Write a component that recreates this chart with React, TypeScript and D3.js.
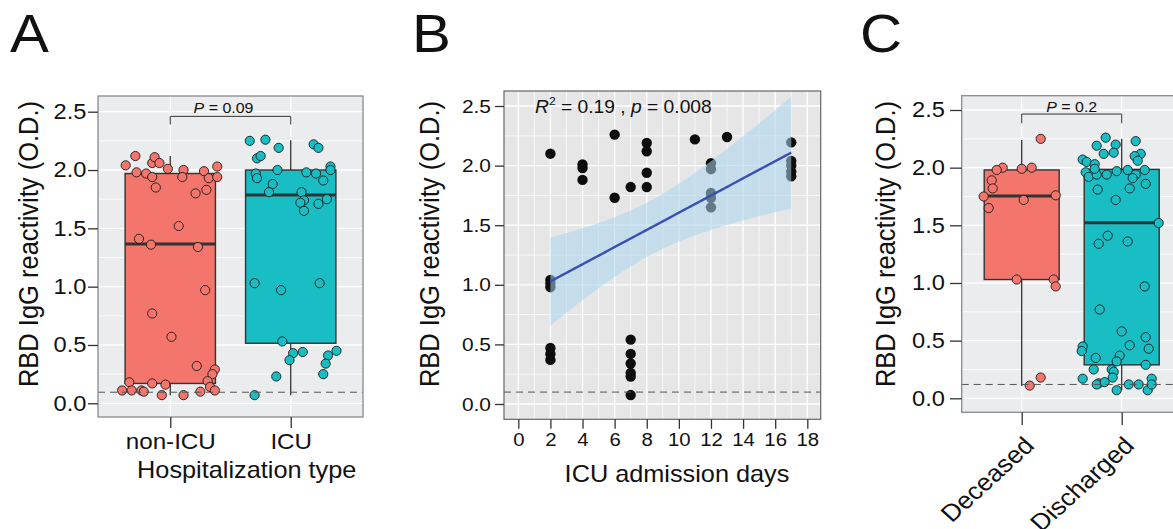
import * as d3 from "d3";
import { useRef, useEffect } from "react";

const FONT = "'Liberation Sans', Arial, Helvetica, sans-serif";
const SX = 1.1; // glyphs in the figure are a bit wider than plain Arial
const RED = "#F4756C";
const TEAL = "#19BEC4";

// ---- Panel A: hospitalization type ----
const hospGroups = ["non-ICU", "ICU"];
const nonIcuJitter = [-0.37, -0.29, -0.28, -0.2, -0.15, -0.15, -0.13, -0.09, -0.02, -0.12, 0.11, 0.1, 0.28, 0.32, 0.39, 0.39, 0.3, 0.21, 0.07, -0.26, -0.16, 0.23, 0.29, -0.15, 0.01, 0.22, 0.37, 0.35, 0.31, 0.33, 0.37, -0.34, -0.15, -0.04, -0.4, -0.32, -0.24, -0.22, -0.07, 0.11, 0.25];
const nonIcuValues = [2.04, 2.12, 1.98, 1.97, 1.94, 2.06, 2.11, 2.06, 2.01, 1.85, 2.0, 1.94, 1.99, 1.93, 2.03, 1.94, 1.83, 1.8, 1.52, 1.41, 1.36, 1.34, 0.97, 0.77, 0.57, 0.32, 0.29, 0.25, 0.19, 0.14, 0.11, 0.18, 0.17, 0.16, 0.11, 0.11, 0.11, 0.1, 0.07, 0.07, 0.1];
const icuJitter = [-0.34, -0.21, -0.1, 0.19, 0.23, -0.28, -0.25, -0.29, -0.28, -0.11, 0.13, 0.21, 0.27, 0.33, 0.33, -0.15, -0.18, 0.09, 0.11, 0.08, 0.11, 0.23, 0.3, -0.3, -0.08, 0.24, -0.07, 0.02, 0.1, -0.01, 0.38, 0.31, 0.29, 0.27, -0.12, -0.3];
const icuValues = [2.25, 2.26, 2.19, 2.22, 2.19, 2.1, 2.12, 1.97, 1.93, 2.0, 1.98, 1.97, 1.91, 2.03, 2.0, 1.88, 1.81, 1.81, 1.74, 1.72, 1.65, 1.71, 1.75, 1.03, 0.97, 1.03, 0.53, 0.43, 0.44, 0.37, 0.45, 0.41, 0.34, 0.25, 0.23, 0.07];
// [min, q1, median, q3, max]
const hospBoxes = [
  [0.07, 0.17, 1.365, 1.97, 2.12],
  [0.07, 0.515, 1.785, 2.0, 2.255],
];
const hospP = "0.09";
const hospCutoff = 0.095;

// ---- Panel B: ICU admission days ----
const icuDays = [2, 2, 2, 2, 2, 2, 2, 4, 4, 4, 6, 6, 7, 7, 7, 7, 7, 7, 7, 8, 8, 8, 8, 11, 12, 12, 12, 12, 12, 13, 17, 17, 17, 17, 17];
const icuDayValues = [2.1, 1.04, 1.01, 0.98, 0.47, 0.42, 0.37, 2.01, 1.98, 1.88, 2.26, 1.73, 1.82, 0.54, 0.42, 0.34, 0.26, 0.23, 0.075, 2.19, 2.12, 1.94, 1.82, 2.22, 2.02, 1.97, 1.77, 1.73, 1.65, 2.24, 2.195, 2.04, 2.0, 1.95, 1.91];
const dayTicks = [0, 2, 4, 6, 8, 10, 12, 14, 16, 18];
const daysCutoff = 0.1;

// ---- Panel C: outcome ----
const outcomeGroups = ["Deceased", "Discharged"];
const deceasedJitter = [0.19, -0.19, 0.1, 0.0, -0.25, -0.3, -0.29, -0.38, 0.34, 0.02, -0.33, -0.05, 0.32, 0.34, 0.19, 0.08];
const deceasedValues = [2.25, 2.0, 2.0, 1.99, 1.98, 1.89, 1.82, 1.75, 1.76, 1.72, 1.65, 1.03, 1.03, 0.97, 0.18, 0.11];
const dischargedJitter = [-0.16, -0.25, -0.06, 0.14, -0.18, -0.08, 0.19, 0.13, -0.39, -0.35, -0.27, 0.16, -0.36, -0.33, -0.25, -0.27, -0.15, -0.05, 0.06, 0.14, 0.23, 0.11, 0.24, 0.08, -0.24, -0.06, 0.37, -0.14, -0.23, 0.06, 0.23, -0.22, 0.0, 0.24, -0.39, 0.08, 0.27, -0.4, -0.02, -0.26, -0.05, 0.24, -0.28, -0.1, -0.08, -0.39, -0.09, 0.3, -0.23, -0.25, -0.17, -0.05, 0.07, 0.17, 0.26, 0.3];
const dischargedValues = [2.26, 2.19, 2.2, 2.23, 2.12, 2.13, 2.12, 2.1, 2.07, 2.05, 2.03, 2.06, 1.96, 1.92, 1.94, 1.99, 1.94, 1.97, 1.98, 1.94, 1.98, 1.91, 1.86, 1.82, 1.81, 1.72, 1.52, 1.41, 1.34, 1.36, 0.97, 0.77, 0.58, 0.53, 0.45, 0.46, 0.43, 0.41, 0.37, 0.35, 0.32, 0.29, 0.25, 0.25, 0.23, 0.17, 0.18, 0.17, 0.13, 0.12, 0.14, 0.07, 0.12, 0.12, 0.07, 0.12];
const outcomeBoxes = [
  [0.107, 1.03, 1.755, 1.98, 2.24],
  [0.07, 0.29, 1.523, 1.985, 2.25],
];
const outcomeP = "0.2";
const outcomeCutoff = 0.12;

const odTicks = [0, 0.5, 1, 1.5, 2, 2.5];
const yTitle = "RBD IgG reactivity (O.D.)";

function label(g, x, y, text, size, anchor = "middle", rotate = 0) {
  return g.append("text")
    .attr("transform", `translate(${x},${y}) scale(${SX},1) rotate(${rotate})`)
    .attr("text-anchor", anchor)
    .attr("font-size", size)
    .attr("fill", "#111")
    .text(text);
}

function boxPanel(svg, c) {
  const x = d3.scaleLinear().domain([0.4, 2.6]).range([c.left, c.right]);
  const y = d3.scaleLinear().domain([0, 2.5]).range(c.yRange);
  const g = svg.append("g");

  g.append("rect")
    .attr("x", c.left).attr("y", c.top)
    .attr("width", c.right - c.left).attr("height", c.bottom - c.top)
    .attr("fill", "#EBECEE");

  // grid
  g.append("g").selectAll("line")
    .data(d3.range(0, 2.51, 0.25))
    .join("line")
      .attr("x1", c.left).attr("x2", c.right)
      .attr("y1", d => y(d)).attr("y2", d => y(d))
      .attr("stroke", "white")
      .attr("stroke-width", (d, i) => (i % 2 === 0 ? 1.3 : 0.8));
  g.append("g").selectAll("line")
    .data([1, 2])
    .join("line")
      .attr("x1", d => x(d)).attr("x2", d => x(d))
      .attr("y1", c.top).attr("y2", c.bottom)
      .attr("stroke", "white").attr("stroke-width", 1.3);

  // whiskers
  g.append("g").selectAll("line")
    .data(c.boxes)
    .join("line")
      .attr("x1", (d, i) => x(i + 1)).attr("x2", (d, i) => x(i + 1))
      .attr("y1", d => y(d[0])).attr("y2", d => y(d[4]))
      .attr("stroke", "#333").attr("stroke-width", 1.3);

  // boxes
  const bw = x(0.75) - x(0);
  g.append("g").selectAll("rect")
    .data(c.boxes)
    .join("rect")
      .attr("x", (d, i) => x(i + 1) - bw / 2)
      .attr("y", d => y(d[3]))
      .attr("width", bw)
      .attr("height", d => y(d[1]) - y(d[3]))
      .attr("fill", (d, i) => c.colors[i])
      .attr("stroke", "#333").attr("stroke-width", 1.4);
  g.append("g").selectAll("line")
    .data(c.boxes)
    .join("line")
      .attr("x1", (d, i) => x(i + 1) - bw / 2).attr("x2", (d, i) => x(i + 1) + bw / 2)
      .attr("y1", d => y(d[2])).attr("y2", d => y(d[2]))
      .attr("stroke", "#333").attr("stroke-width", 3);

  // jittered points
  c.points.forEach(([jit, vals], gi) => {
    g.append("g").selectAll("circle")
      .data(vals)
      .join("circle")
        .attr("cx", (d, i) => x(gi + 1 + jit[i]))
        .attr("cy", d => y(d))
        .attr("r", 4.6)
        .attr("fill", c.colors[gi])
        .attr("stroke", "#1a1a1a").attr("stroke-width", 0.9);
  });

  // cutoff
  g.append("line")
    .attr("x1", c.left).attr("x2", c.right)
    .attr("y1", y(c.cutoff)).attr("y2", y(c.cutoff))
    .attr("stroke", "#555").attr("stroke-width", 1)
    .attr("stroke-dasharray", "7,5");

  // significance bracket
  const [bTop, bLeg] = c.bracket;
  g.append("path")
    .attr("d", `M${x(1)},${y(bLeg)}V${y(bTop)}H${x(2)}V${y(bLeg)}`)
    .attr("fill", "none").attr("stroke", "#333").attr("stroke-width", 1);
  const pt = g.append("text")
    .attr("transform", `translate(${(x(1) + x(2)) / 2 + c.pShift},${c.pY}) scale(${SX},1)`)
    .attr("text-anchor", "middle").attr("font-size", 14.5).attr("fill", "#111");
  pt.append("tspan").attr("font-style", "italic").text("P");
  pt.append("tspan").text(` = ${c.p}`);

  // frame
  g.append("rect")
    .attr("x", c.left).attr("y", c.top)
    .attr("width", c.right - c.left).attr("height", c.bottom - c.top)
    .attr("fill", "none").attr("stroke", "#8a8a8a").attr("stroke-width", 1.3);

  // y axis
  const ya = g.append("g")
    .attr("transform", `translate(${c.left},0)`)
    .call(d3.axisLeft(y).tickValues(odTicks).tickFormat(d3.format(".1f")).tickSize(c.tickLen).tickPadding(0));
  ya.select(".domain").remove();
  ya.selectAll(".tick line").attr("stroke", "#333").attr("stroke-width", 1.3);
  ya.selectAll(".tick text")
    .attr("x", 0)
    .attr("transform", `translate(${-(c.tickLen + c.tickPad)},0) scale(${SX},1)`)
    .attr("font-size", 21.5).attr("font-family", FONT).attr("fill", "#111");

  // x axis
  const xa = g.append("g")
    .attr("transform", `translate(0,${c.bottom})`)
    .call(d3.axisBottom(x).tickValues([1, 2]).tickFormat(d => c.groups[d - 1]).tickSize(c.xTickLen).tickPadding(5));
  xa.select(".domain").remove();
  xa.selectAll(".tick line").attr("stroke", "#333").attr("stroke-width", 1.3);
  const xt = xa.selectAll(".tick text")
    .attr("font-size", 22).attr("font-family", FONT).attr("fill", "#111");
  if (c.rotateX) {
    xt.attr("x", 0).attr("y", 0).attr("dy", 0)
      .attr("text-anchor", "end")
      .attr("transform", `translate(13.5,34.7) scale(${SX},1) rotate(-45)`)
      .attr("font-size", 24);
  } else {
    xt.attr("transform", `scale(${SX},1)`);
  }

  label(g, c.titleX, 244, yTitle, 25.5, "middle", -90);
}

export default function App() {
  const ref = useRef(null);

  useEffect(() => {
    const svg = d3.select(ref.current);
    svg.selectAll("*").remove();
    svg.attr("font-family", FONT);

    // panel letters
    label(svg, 10, 52, "A", 53, "start");
    label(svg, 412, 52, "B", 53, "start");
    label(svg, 860, 52, "C", 53, "start");

    // ---- A ----
    boxPanel(svg, {
      left: 98, right: 363, top: 96, bottom: 417, yRange: [403.3, 111.7],
      groups: hospGroups, colors: [RED, TEAL],
      points: [[nonIcuJitter, nonIcuValues], [icuJitter, icuValues]],
      boxes: hospBoxes, cutoff: hospCutoff,
      p: hospP, pShift: -7, pY: 113.3, bracket: [2.46, 2.39],
      tickLen: 10, tickPad: 1.5, xTickLen: 11, titleX: 38,
    });
    label(svg, 246.7, 477.7, "Hospitalization type", 23);

    // ---- B ----
    const L = 504, R = 820.7, T = 91, B = 419.3;
    const x = d3.scaleLinear().domain([0, 18]).range([518.3, 807.3]);
    const y = d3.scaleLinear().domain([0, 2.5]).range([404, 106]);
    const g = svg.append("g");
    g.append("rect").attr("x", L).attr("y", T).attr("width", R - L).attr("height", B - T).attr("fill", "#E6E6E6");
    g.append("g").selectAll("line")
      .data(d3.range(0, 2.51, 0.25))
      .join("line")
        .attr("x1", L).attr("x2", R)
        .attr("y1", d => y(d)).attr("y2", d => y(d))
        .attr("stroke", "white").attr("stroke-width", (d, i) => (i % 2 === 0 ? 1.3 : 0.7));
    g.append("g").selectAll("line")
      .data(d3.range(0, 19, 1))
      .join("line")
        .attr("x1", d => x(d)).attr("x2", d => x(d))
        .attr("y1", T).attr("y2", B)
        .attr("stroke", "white").attr("stroke-width", (d, i) => (i % 2 === 0 ? 1.3 : 0.7));

    g.append("g").selectAll("circle")
      .data(icuDays)
      .join("circle")
        .attr("cx", d => x(d))
        .attr("cy", (d, i) => y(icuDayValues[i]))
        .attr("r", 5.2)
        .attr("fill", "#0d0d0d");

    // linear fit with 95% CI, as geom_smooth(method = "lm")
    const n = icuDays.length;
    const mx = d3.mean(icuDays), my = d3.mean(icuDayValues);
    const sxx = d3.sum(icuDays, d => (d - mx) ** 2);
    const sxy = d3.sum(icuDays, (d, i) => (d - mx) * (icuDayValues[i] - my));
    const slope = sxy / sxx, icpt = my - slope * mx;
    const s = Math.sqrt(d3.sum(icuDays, (d, i) => (icuDayValues[i] - icpt - slope * d) ** 2) / (n - 2));
    const tCrit = 2.035;
    const [dMin, dMax] = d3.extent(icuDays);
    const fit = d3.range(80).map(i => {
      const d = dMin + (i * (dMax - dMin)) / 79;
      const f = icpt + slope * d;
      const se = s * Math.sqrt(1 / n + (d - mx) ** 2 / sxx);
      return { d, f, lo: f - tCrit * se, hi: f + tCrit * se };
    });
    g.append("path")
      .datum(fit)
      .attr("d", d3.area().x(d => x(d.d)).y0(d => y(d.lo)).y1(d => y(d.hi)))
      .attr("fill", "#A9D5EC").attr("fill-opacity", 0.55);
    g.append("path")
      .datum(fit)
      .attr("d", d3.line().x(d => x(d.d)).y(d => y(d.f)))
      .attr("fill", "none").attr("stroke", "#3A50B0").attr("stroke-width", 2.4);

    g.append("line")
      .attr("x1", L).attr("x2", R)
      .attr("y1", y(daysCutoff)).attr("y2", y(daysCutoff))
      .attr("stroke", "#555").attr("stroke-width", 1).attr("stroke-dasharray", "7,5");

    g.append("rect").attr("x", L).attr("y", T).attr("width", R - L).attr("height", B - T)
      .attr("fill", "none").attr("stroke", "#666").attr("stroke-width", 1.2);

    const r2 = g.append("text")
      .attr("transform", `translate(535,113.3) scale(${SX},1)`)
      .attr("font-size", 17.5).attr("fill", "#111");
    r2.append("tspan").attr("font-style", "italic").text("R");
    r2.append("tspan").attr("font-size", 11).attr("dy", -8).text("2");
    r2.append("tspan").attr("dy", 8).text(" = 0.19 , ");
    r2.append("tspan").attr("font-style", "italic").text("p");
    r2.append("tspan").text(" = 0.008");

    const ya = g.append("g").attr("transform", `translate(${L},0)`)
      .call(d3.axisLeft(y).tickValues(odTicks).tickFormat(d3.format(".1f")).tickSize(9).tickPadding(0));
    ya.select(".domain").remove();
    ya.selectAll(".tick line").attr("stroke", "#333").attr("stroke-width", 1.3);
    ya.selectAll(".tick text").attr("x", 0)
      .attr("transform", `translate(-13,0) scale(${SX},1)`)
      .attr("font-size", 19).attr("font-family", FONT).attr("fill", "#111");

    const xa = g.append("g").attr("transform", `translate(0,${B})`)
      .call(d3.axisBottom(x).tickValues(dayTicks).tickSize(9.5).tickPadding(4));
    xa.select(".domain").remove();
    xa.selectAll(".tick line").attr("stroke", "#333").attr("stroke-width", 1.3);
    xa.selectAll(".tick text").attr("transform", `scale(${SX},1)`)
      .attr("font-size", 18.5).attr("font-family", FONT).attr("fill", "#111");

    label(svg, 438.5, 244, yTitle, 25.5, "middle", -90);
    label(svg, 677, 481.7, "ICU admission days", 23);

    // ---- C ----
    boxPanel(svg, {
      left: 961.7, right: 1181.7, top: 95.7, bottom: 412.3, yRange: [398.3, 110],
      groups: outcomeGroups, colors: [RED, TEAL],
      points: [[deceasedJitter, deceasedValues], [dischargedJitter, dischargedValues]],
      boxes: outcomeBoxes, cutoff: outcomeCutoff,
      p: outcomeP, pShift: 0, pY: 112.3, bracket: [2.465, 2.385],
      tickLen: 11.7, tickPad: 5, xTickLen: 12.7, titleX: 895, rotateX: true,
    });
  }, []);

  return (
    <svg
      ref={ref}
      width={1173}
      height={529}
      style={{ position: "absolute", left: 0, top: 0, background: "white" }}
    />
  );
}
